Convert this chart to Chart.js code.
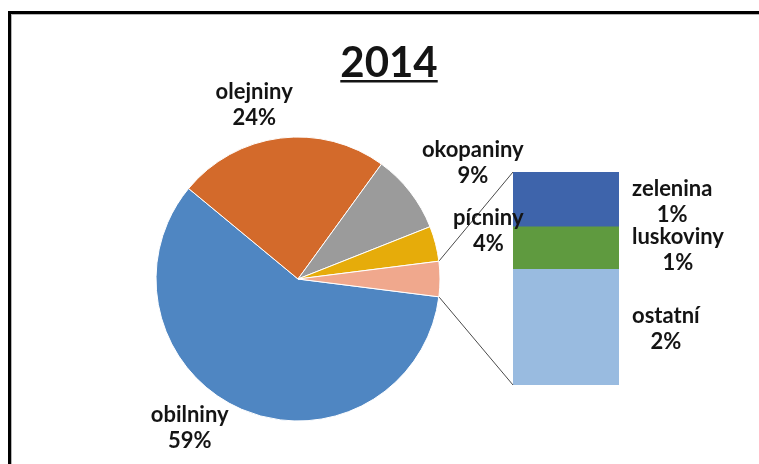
<!DOCTYPE html>
<html>
<head>
<meta charset="utf-8">
<title>2014</title>
<script src="https://cdn.jsdelivr.net/npm/chart.js@4"></script>
<style>
  html, body { margin: 0; padding: 0; background: #fff; }
  #wrap { position: relative; width: 759px; height: 464px; overflow: hidden; }
  #frame { position: absolute; left: 8px; top: 11px; width: 800px; height: 500px;
           border: 3px solid #000; box-shadow: inset 1px 1px 0 #b5b5b5; }
  canvas { position: absolute; left: 0; top: 0; }
</style>
</head>
<body>
<div id="wrap">
  <div id="frame"></div>
  <!-- bar sits under the pie layer so pie labels can overlap it -->
  <canvas id="bar" width="759" height="464"></canvas>
  <canvas id="pie" width="759" height="464"></canvas>
</div>
<script>
const title = '2014';

// main pie (percent of area)
const pieLabels = ['obilniny', 'olejniny', 'okopaniny', 'pícniny'];
const pieValues = [59, 24, 9, 4];

// split of the small remainder, bottom to top in the bar
const subLabels = ['ostatní', 'luskoviny', 'zelenina'];
const subValues = [2.17, 0.8, 1.03];

const otherTotal = subValues.reduce((s, v) => s + v, 0);
const grandTotal = pieValues.reduce((s, v) => s + v, 0) + otherTotal;

const textColor = '#141414';
const labelFont = 'bold 22px Lato';

// title and outside labels of the pie
const pieText = {
  id: 'pieText',
  afterDraw(chart, args, opts) {
    const ctx = chart.ctx;
    const arcs = chart.getDatasetMeta(0).data;
    ctx.save();
    ctx.fillStyle = textColor;
    ctx.textAlign = 'center';

    ctx.font = 'bold 42px Lato';
    ctx.textBaseline = 'alphabetic';
    ctx.fillText(title, 389, 77);
    const tw = ctx.measureText(title).width;
    ctx.fillRect(389 - tw / 2, 80, tw, 2.5);

    ctx.font = labelFont;
    ctx.textBaseline = 'middle';
    pieLabels.forEach((name, i) => {
      const a = arcs[i];
      const mid = (a.startAngle + a.endAngle) / 2;
      const r = a.outerRadius + 40;
      const [dx, dy] = opts.nudges[i];
      const x = a.x + Math.cos(mid) * r + dx;
      const y = a.y + Math.sin(mid) * r + dy;
      ctx.fillText(name, x, y - 13);
      ctx.fillText(Math.round(pieValues[i]) + '%', x, y + 13);
    });
    ctx.restore();
  }
};

const pieChart = new Chart(document.getElementById('pie'), {
  type: 'pie',
  data: {
    labels: [...pieLabels, 'ostatní'],
    datasets: [{
      data: [...pieValues, otherTotal],
      backgroundColor: ['#4f86c2', '#d36a2b', '#9b9b9b', '#e6ac0a', '#f0a88d'],
      borderColor: '#ffffff',
      borderWidth: 1
    }]
  },
  options: {
    responsive: false,
    animation: false,
    // keep the remainder slice centred on the right
    rotation: 90 + (otherTotal / grandTotal) * 180,
    radius: 142,
    layout: { padding: { left: 156, right: 319, top: 137, bottom: 43 } },
    plugins: {
      legend: { display: false },
      tooltip: { enabled: false },
      pieText: { nudges: [[-36, -18], [-21, 6], [31, -5], [14, -3]] }
    }
  },
  plugins: [pieText]
});

// connector lines and labels of the stacked bar
const barText = {
  id: 'barText',
  afterDraw(chart) {
    const ctx = chart.ctx;
    const other = pieChart.getDatasetMeta(0).data[pieValues.length];
    const bottomBar = chart.getDatasetMeta(0).data[0];
    const topBar = chart.getDatasetMeta(subValues.length - 1).data[0];
    const barLeft = bottomBar.x - bottomBar.width / 2;

    ctx.save();
    ctx.strokeStyle = '#4a4a4a';
    ctx.lineWidth = 1;
    ctx.beginPath();
    ctx.moveTo(other.x + Math.cos(other.startAngle) * other.outerRadius,
               other.y + Math.sin(other.startAngle) * other.outerRadius);
    ctx.lineTo(barLeft, topBar.y);
    ctx.moveTo(other.x + Math.cos(other.endAngle) * other.outerRadius,
               other.y + Math.sin(other.endAngle) * other.outerRadius);
    ctx.lineTo(barLeft, bottomBar.base);
    ctx.stroke();

    ctx.fillStyle = textColor;
    ctx.font = labelFont;
    ctx.textAlign = 'center';
    ctx.textBaseline = 'middle';
    subLabels.forEach((name, i) => {
      const el = chart.getDatasetMeta(i).data[0];
      const yc = (el.y + el.base) / 2 + 2;
      const left = el.x + el.width / 2 + 13;
      const cx = left + ctx.measureText(name).width / 2;
      ctx.fillText(name, cx, yc - 13);
      ctx.fillText(Math.round(subValues[i]) + '%', cx, yc + 13);
    });
    ctx.restore();
  }
};

new Chart(document.getElementById('bar'), {
  type: 'bar',
  data: {
    labels: [''],
    datasets: subLabels.map((name, i) => ({
      label: name,
      data: [subValues[i]],
      backgroundColor: ['#99bbe0', '#5f9a3f', '#3e64ab'][i],
      borderWidth: 0,
      barPercentage: 1,
      categoryPercentage: 1
    }))
  },
  options: {
    responsive: false,
    animation: false,
    layout: { padding: { left: 513, right: 140, top: 172, bottom: 79 } },
    scales: {
      x: { stacked: true, display: false },
      y: { stacked: true, display: false, min: 0, max: otherTotal }
    },
    plugins: { legend: { display: false }, tooltip: { enabled: false } }
  },
  plugins: [barText]
});
</script>
</body>
</html>
